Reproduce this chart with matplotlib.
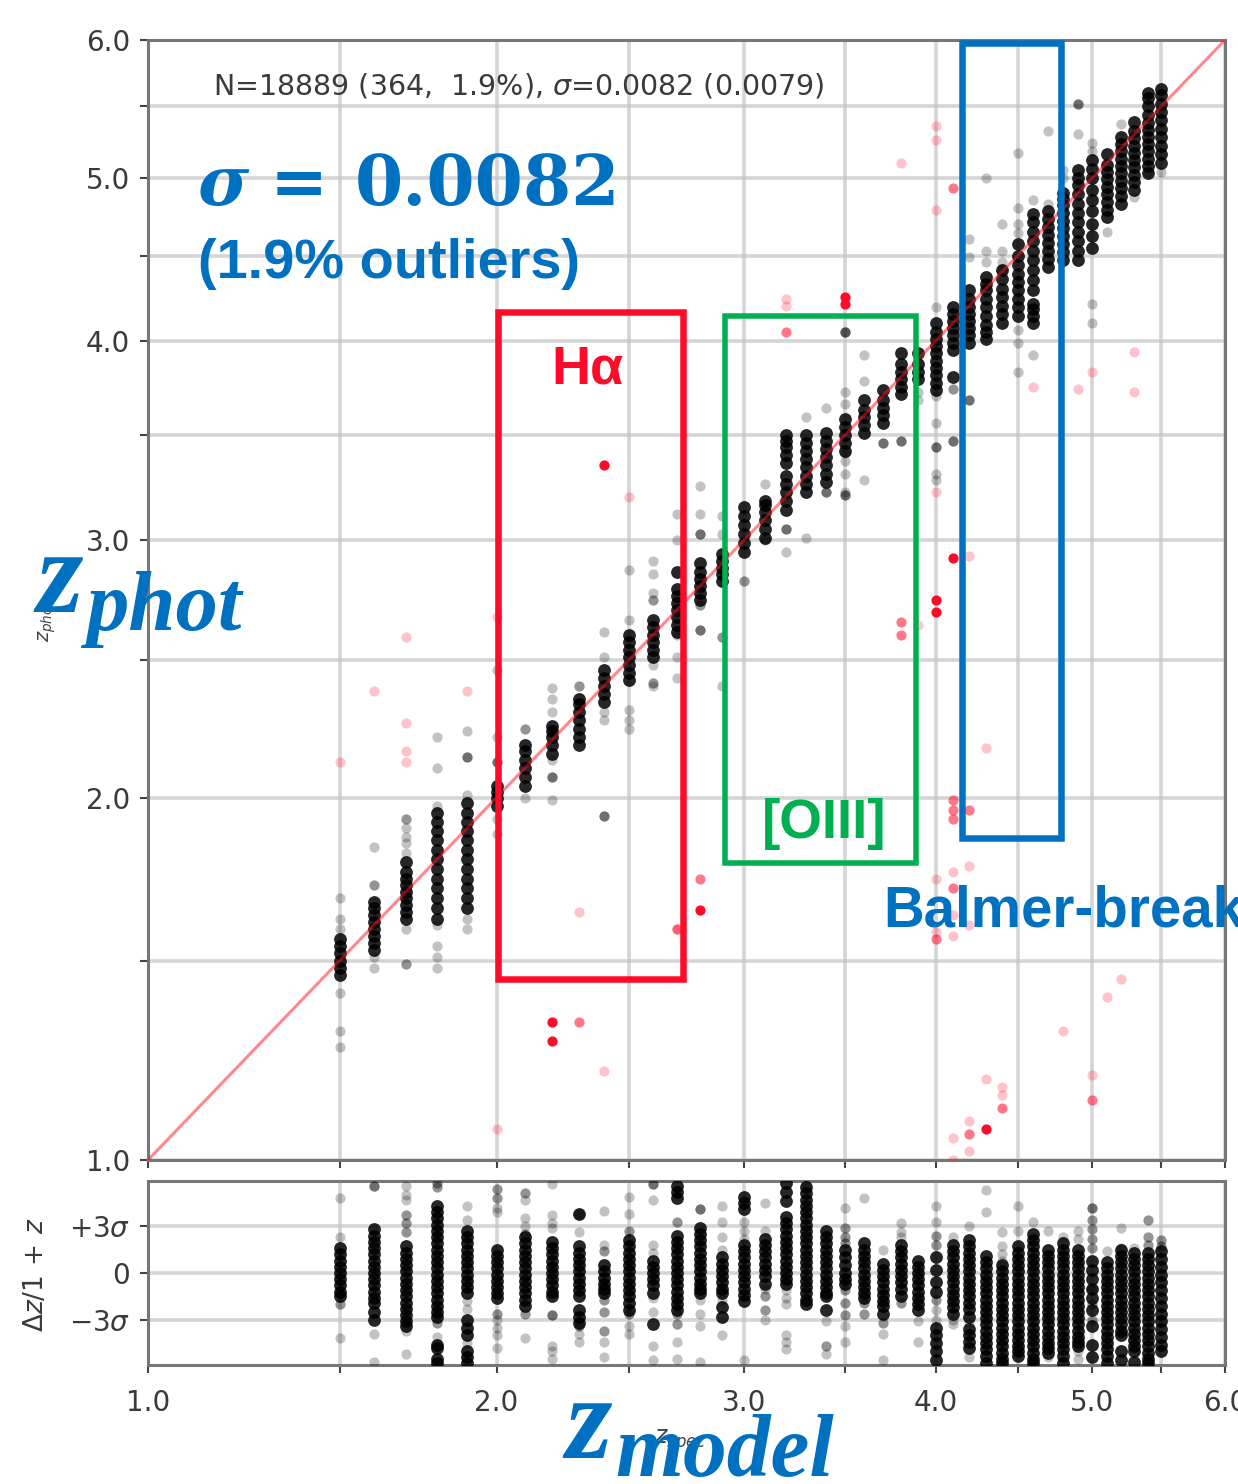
import numpy as np
import matplotlib
matplotlib.use("Agg")
import matplotlib.pyplot as plt
from matplotlib.patches import Rectangle
from matplotlib.ticker import FixedLocator, FixedFormatter, NullFormatter

z_spec_cols = [1.5,1.6,1.7,1.8,1.9,2.0,2.1,2.2,2.3,2.4,2.5,2.6,2.7,2.8,2.9,3.0,3.1,3.2,3.3,3.4,3.5,
               3.6,3.7,3.8,3.9,4.0,4.1,4.2,4.3,4.4,4.5,4.6,4.7,4.8,4.9,5.0,5.1,5.2,5.3,5.4,5.5]

# main panel: z_phot per z_spec column
main_dense = [
 [1.46,1.48,1.50,1.52,1.54,1.56],
 [1.53,1.55,1.57,1.59,1.61,1.63,1.65,1.67],
 [1.62,1.64,1.66,1.68,1.70,1.72,1.74,1.76,1.79],
 [1.62,1.65,1.68,1.71,1.74,1.77,1.80,1.83,1.86,1.89,1.92,1.95],
 [1.65,1.68,1.71,1.74,1.77,1.80,1.83,1.86,1.89,1.92,1.95,1.98],
 [1.97,2.00,2.02,2.04],
 [2.04,2.07,2.10,2.13,2.16,2.18],
 [2.15,2.18,2.21,2.23,2.25],
 [2.18,2.21,2.24,2.27,2.30,2.33,2.35],
 [2.34,2.37,2.40,2.43,2.46],
 [2.42,2.45,2.48,2.51,2.54,2.57,2.60],
 [2.51,2.54,2.57,2.60,2.63,2.66],
 [2.61,2.64,2.67,2.70,2.73,2.76,2.79,2.86],
 [2.74,2.77,2.80,2.83,2.86,2.90],
 [2.82,2.85,2.88,2.91,2.94],
 [2.95,2.99,3.03,3.07,3.11,3.15],
 [3.01,3.05,3.09,3.13,3.16,3.18],
 [3.14,3.18,3.22,3.26,3.30,3.36,3.40,3.44,3.47,3.50],
 [3.22,3.26,3.30,3.34,3.38,3.42,3.46,3.50],
 [3.27,3.31,3.35,3.39,3.43,3.47,3.51],
 [3.42,3.46,3.50,3.54,3.58],
 [3.51,3.55,3.59,3.63,3.68],
 [3.56,3.60,3.64,3.68,3.73],
 [3.71,3.75,3.79,3.83,3.87,3.93],
 [3.79,3.83,3.87,3.93],
 [3.73,3.77,3.81,3.85,3.89,3.93,3.97,4.01,4.05,4.10],
 [3.95,3.99,4.03,4.07,4.11,4.15,4.19,3.80],
 [3.99,4.03,4.07,4.11,4.15,4.19,4.24,4.29],
 [4.01,4.05,4.09,4.14,4.19,4.24,4.29,4.33,4.37],
 [4.10,4.15,4.20,4.25,4.30,4.36,4.41],
 [4.14,4.19,4.24,4.29,4.34,4.39,4.44,4.50,4.57],
 [4.10,4.14,4.18,4.21,4.29,4.35,4.41,4.47,4.53,4.59,4.65,4.71,4.76],
 [4.43,4.48,4.53,4.58,4.63,4.68,4.73,4.78],
 [4.47,4.52,4.57,4.62,4.67,4.72,4.77,4.82,4.86,4.90],
 [4.47,4.53,4.59,4.65,4.71,4.77,4.83,4.89,4.95,5.00,5.05],
 [4.55,4.62,4.70,4.78,4.85,4.92,5.00,5.06,5.12],
 [4.74,4.79,4.84,4.89,4.94,4.99,5.04,5.09,5.16],
 [4.83,4.88,4.93,4.98,5.03,5.08,5.13,5.18,5.23,5.28],
 [4.92,4.97,5.02,5.07,5.12,5.17,5.22,5.27,5.32,5.39],
 [5.03,5.08,5.13,5.18,5.23,5.28,5.33,5.38,5.44,5.50,5.56,5.60],
 [5.10,5.16,5.22,5.28,5.34,5.40,5.46,5.52,5.58,5.63],
]
main_sparse = [
 [1.68,1.62,1.59,1.41,1.31,1.27],
 [1.84,1.72,1.72,1.51,1.48],
 [1.93,1.93,1.90,1.87,1.85,1.82,1.59,1.49,1.49],
 [1.97,1.60,2.21,2.10,1.54,1.51,1.48],
 [2.01,2.23,2.14,2.14,2.14,1.62,1.59],
 [2.21,2.12,2.12,2.12,2.46,1.93,1.88],
 [2.24,2.24,2.00],
 [2.39,2.35,2.30,2.13,2.07,2.07,2.07,1.99],
 [2.40,2.40],
 [2.61,2.51,2.30,2.27,1.94,1.94,1.94],
 [2.66,2.87,2.31,2.27,2.24],
 [2.48,2.41,2.41,2.40,2.91,2.85,2.77,2.74,2.74],
 [2.60,2.51,2.43,3.00,3.12],
 [3.03,3.03,3.03,2.72,2.72,2.62,2.62,2.62,3.25,3.12],
 [2.59,2.59,2.40,3.11,3.03],
 [2.82,2.82],
 [3.26,3.00],
 [3.05,3.05,3.05,2.95],
 [3.59,3.01],
 [3.64,3.22,3.22,3.22],
 [3.41,3.37,3.31,3.22,3.21,3.21,3.21,3.72,3.66,4.05,4.05,4.05,4.05],
 [3.92,3.78,3.28],
 [3.46,3.46,3.46],
 [3.47,3.47,3.47],
 [3.72,3.68],
 [3.70,3.56,3.44,3.44,3.44,3.31,3.28,4.19],
 [3.74,3.74,3.47,3.47,3.47],
 [4.60,4.49,3.68,3.68,3.68],
 [5.00,4.53,4.46],
 [4.53,4.46,4.41,4.70],
 [5.17,4.80,4.70,4.64,4.06,3.99,3.83],
 [3.92,4.85],
 [5.32,4.83],
 [5.00,5.05],
 [5.52,5.52,5.52,5.30],
 [4.21,4.10,5.24,5.18],
 [4.65],
 [5.37],
 [4.87],
 [5.04],
 [5.04],
]

# residual panel: Delta z/(1+z) in units of sigma, per z_spec column
res_dense = [
 [1.6,1.2,0.8,0.4,0,-0.4,-0.8,-1.2,-1.5],
 [2.85,2.4,2,1.6,1.2,0.8,0.4,0,-0.4,-0.8,-1.2,-1.6,-1.9,-2.5,-3.0],
 [1.7,1.3,0.9,0.5,0.1,-0.3,-0.7,-1.1,-1.5,-1.9,-2.3,-2.7,-3.1,-3.4],
 [4.3,3.9,3.5,3.1,2.7,2.3,1.9,1.5,1.1,0.7,0.3,-0.1,-0.5,-0.9,-1.3,-1.7,-2.1,-2.5,-2.8,-4.6,-4.8,-5.5,-5.8],
 [2.7,2.3,1.9,1.5,1.1,0.7,0.3,-0.1,-0.5,-0.9,-1.3,-3,-3.5,-4,-5,-5.4,-5.8],
 [1.5,1.1,0.7,0.3,-0.1,-0.5,-0.9,-1.3,-1.6],
 [2.3,1.9,1.5,1.1,0.7,0.3,-0.1,-0.5,-0.9,-1.3,-1.7,-2.1],
 [2,1.6,1.2,0.8,0.4,0,-0.4,-0.8,-1.2,-1.5],
 [1.7,1.3,0.9,0.5,0.1,-0.3,-0.7,-1.1,-1.5,-2.4,-2.8,-3.2,3.8],
 [0.5,0.1,-0.3,-0.7,-1.0,-1.3],
 [2.1,1.7,1.3,0.9,0.5,0.1,-0.3,-0.7,-1.1,-1.5,-1.9,-2.4],
 [0.8,0.4,0,-0.4,-0.8,-1.3,-3.3],
 [2.4,2,1.6,1.2,0.8,0.4,0,-0.4,-0.8,-1.2,-1.6,-2,-2.4,5.6,5.2,4.8],
 [2.9,2.5,2.1,1.7,1.3,0.9,0.5,0.1,-0.3,-0.7,-1.0,-1.3],
 [1,0.6,0.2,-0.2,-0.6,-1.0,-1.3,-2.2,-2.8],
 [1.8,1.4,1,0.6,0.2,-0.2,-0.6,-1.0,-1.4,-1.8,4.9,4.5,4.1],
 [2.2,1.8,1.4,1,0.6,0.2,-0.2,-0.7],
 [5.8,5.2,4.6,3.6,3.2,2.8,2.4,2,1.6,1.2,0.8,0.4,0,-0.4,-0.7],
 [5.5,5.1,4.7,4.3,3.9,3.5,3.1,2.7,2.3,1.9,1.5,1.1,0.7,0.3,-0.1,-0.5,-0.9,-1.3,-1.7,-2.0],
 [2.7,2.3,1.9,1.5,1.1,0.7,0.3,-0.1,-0.5,-0.9,-1.3,-1.5,-2.4],
 [1.5,1.0,0.5,0,-0.4,-0.7],
 [1.9,1.5,1.1,0.7,0.3,-0.1,-0.5,-0.9,-1.3,-1.6],
 [0.6,0.2,-0.2,-0.6,-1.0,-1.4,-1.8,-2.1,-2.6],
 [1.8,1.4,1,0.6,0.2,-0.2,-0.6,-1.0,-1.5],
 [0.8,0.4,0,-0.4,-0.8,-1.2,-1.6,-2.0,-2.4],
 [1.0,0.2,-0.6,-1.2,-3.5,-4,-4.5,-5,-5.6],
 [1.8,1.4,1,0.6,0.2,-0.2,-0.6,-1.0,-1.4,-1.8,-2.2,-2.6],
 [2.1,1.7,1.3,0.9,0.5,0.1,-0.3,-0.7,-1.1,-1.5,-1.9,-2.3,-2.8,-3.6,-4.0,-4.4,-4.8],
 [1.1,0.7,0.3,-0.1,-0.5,-0.9,-1.3,-1.7,-2.1,-2.5,-2.9,-3.3,-3.7,-4.1,-4.5,-4.9,-5.3,-5.8],
 [0.5,0.1,-0.3,-0.7,-1.1,-1.5,-1.9,-2.3,-2.7,-3.1,-3.5,-3.9,-4.3,-4.7,-5.1,-5.5,-5.8],
 [1.7,1.3,0.9,0.5,0.1,-0.3,-0.7,-1.1,-1.5,-1.9,-2.3,-2.7,-3.1,-3.5,-3.9,-4.3,-4.7,-5.0,-5.3],
 [2.5,2.1,1.7,1.3,0.9,0.5,0.1,-0.3,-0.7,-1.1,-1.5,-1.9,-2.3,-2.7,-3.1,-3.5,-3.9,-4.3,-4.7,-5.1,-5.5,-5.8],
 [1.5,1.1,0.7,0.3,-0.1,-0.5,-0.9,-1.3,-1.7,-2.1,-2.5,-2.9,-3.3,-3.7,-4.1,-4.5,-4.8,-5.1],
 [1.9,1.5,1.1,0.7,0.3,-0.1,-0.5,-0.9,-1.3,-1.7,-2.1,-2.5,-2.9,-3.3,-3.7,-4.1,-4.5,-4.9,-5.3,-5.8],
 [1.5,1.1,0.7,0.3,-0.1,-0.5,-0.9,-1.3,-1.7,-2.1,-2.5,-2.9,-3.3,-3.7,-4.1,-4.4,-4.7],
 [0.8,0.2,-0.4,-1.0,-1.6,-2.4,-3.4,-4.6,-5.4],
 [0.7,0.3,-0.1,-0.5,-0.9,-1.3,-1.7,-2.1,-2.5,-2.9,-3.3,-3.7,-4.1,-4.5,-4.9,-5.3,-5.8],
 [1.5,1.1,0.7,0.3,-0.1,-0.5,-0.9,-1.3,-1.7,-2.1,-2.5,-2.9,-3.3,-3.7,-4.0,-5.0,-5.6],
 [1.3,0.9,0.5,0.1,-0.3,-0.7,-1.1,-1.5,-1.9,-2.3,-2.7,-3.1,-3.5,-3.9,-4.3,-4.7,-5.0,-5.7],
 [1.3,0.9,0.5,0.1,-0.3,-0.7,-1.1,-1.5,-1.9,-2.3,-2.7,-3.1,-3.5,-3.9,-4.3,-4.7,-5.1,-5.5,-5.8],
 [1.4,0.9,0.4,-0.1,-0.6,-1.1,-1.6,-2.1,-2.6,-3.1,-3.6,-4.1,-4.6,-5.0],
]
res_sparse = [
 [4.8,2.3,-2.0,-2.0,-4.2],
 [5.6,5.6,5.6,-3.9,-5.7],
 [3.7,3.7,3.2,3.2,2.6,2.6,5.6,5.0,4.7,-3.7,-5.2],
 [5.8,5.8,5.5,5.5,-3.2,-3.2,-4.1],
 [4.3,3.4,-1.8,-2.3,-4.5],
 [5.4,5.4,4.8,4.8,4.2,3.9,-2.6,-2.6,-3,-3.5,-4,-4.8],
 [5.1,5.1,4.7,3.5,3,2.5,2.5,-2.6,-2.6,-4.2],
 [5.7,3.7,3.2,2.9,-2.7,-2.7,-2.7,-4.7,-5,-5.5],
 [3.8,3.8,2.6,-3.4,-3.9,-4.4,-3.4],
 [1.8,1.4,1.4,4,-1.7,-1.7,-2.5,-2.5,-3.7,-3.7,-4.4,-5.4],
 [2.7,2.7,3.8,4.9,-2.6,-2.6,-3.4,-3.9],
 [1.8,1.3,4.7,5.7,5.7,5.7,-1.6,-2.5,-4.7,-5.6],
 [3.3,3.3,-2.6,-2.6,-3.3,-3.3,-4.4,-5.5],
 [4.1,4.1,4.1,-1.7,-2.6,-3.4,-5.7],
 [4.3,3.3,2.3,1.5,-1.7,-4],
 [3.3,2.7,2.2,-5.6],
 [4.5,2.7,-1,-1.5,-1.5,-2.4,-2.4,-3],
 [-1.1,-1.6,-2,-4,-4.4,-4.9],
 [5.7],
 [-3.1,-4.7,-4.7,-5.2],
 [4.2,2.9,2.9,2.3,2.3,1.9,1.9,-1.1,-1.1,-1.9,-1.9,-2.7,-2.7,-3.4,-4.4],
 [4.8,-1.9,-1.9,-2.6,-2.6],
 [1.5,-3.2,-3.2,-3.9,-5.6],
 [3.2,2.6,2.3,-1.9,-1.9],
 [-3.1,-4.4],
 [4.3,3.3,2.4,2.4,1.8,1.8,-1.7,-1.7,-2.4,-3],
 [2.3,-3,-3.3],
 [3.0,-5.4,-3.2],
 [5.3,3.9],
 [2.6,1.7,1.2,0.8],
 [4.3,2.7],
 [3.3],
 [2.7,-5.4],
 [2.3],
 [2.7,2.2,-5,-5.5],
 [4.2,4.2,4.2,3.4,3.4,2.8,2.8,2.2,2.2,1.6,1.6,-1,-1,-2,-2,-3,-3],
 [1.4],
 [2.9,1.6],
 [1.6],
 [3.4,3.4,2.3,2.3,1.8,1.8,-5.8],
 [2.1,2.1,1.7,1.7],
]

# outliers (z_spec, z_phot) by shade
out_light_spec = [1.5,1.6,1.7,1.7,1.7,1.7,1.9,2.0,2.0,2.3,2.4,2.5,2.7,3.2,3.8,4.0,4.0,4.0,4.6,4.9,5.0,5.3,5.3,4.0,
                  3.9,4.2,4.3,4.2,4.1,4.0,4.1,4.2,4.1,4.0,5.2,5.1,4.8,5.0,4.4,4.4,4.3,4.2,4.1,4.2,4.1,3.2]
out_light_phot = [2.12,2.38,2.59,2.26,2.16,2.12,2.38,2.67,1.07,1.64,1.21,3.20,1.59,4.20,5.10,5.36,5.26,4.79,3.75,3.74,3.83,3.94,3.72,3.22,
                  2.64,2.93,2.17,1.78,1.76,1.74,1.63,1.60,1.57,1.58,1.45,1.40,1.31,1.20,1.17,1.15,1.19,1.09,1.05,1.02,1.00,4.24]
out_mid_spec = [2.3,2.8,3.2,4.1,3.8,3.8,4.1,4.1,4.1,4.2,4.1,4.0,5.0,4.4,4.2,2.7]
out_mid_phot = [1.335,1.74,4.05,4.93,2.65,2.60,1.99,1.96,1.93,1.96,1.71,1.56,1.14,1.12,1.06,1.59]
out_strong_spec = [2.2,2.2,2.4,2.8,3.5,3.5,4.0,4.0,4.1,4.3]
out_strong_phot = [1.335,1.285,3.35,1.645,4.25,4.21,2.74,2.69,2.92,1.07]

major_ticks = [1,2,3,4,5,6]
minor_ticks = [1.5,2.5,3.5,4.5,5.5]
major_labels = ["1.0","2.0","3.0","4.0","5.0","6.0"]
res_ticks = [-3,0,3]
res_labels = [r"$-3\sigma$", "0", r"$+3\sigma$"]
stats_text = r"N=18889 (364,  1.9%), $\sigma$=0.0082 (0.0079)"

W, H = 1238, 1484
BLUE, RED, GREEN = "#0070C0", "#FF0A28", "#00B050"
plt.rcParams["mathtext.fontset"] = "dejavusans"
fig = plt.figure(figsize=(W/100, H/100), dpi=100, facecolor="white")

def fx(p): return p / W
def fy(p): return 1 - p / H

ax = fig.add_axes([fx(148), fy(1160), 1077/W, 1120/H])
axr = fig.add_axes([fx(148), fy(1365), 1077/W, 184/H])
fwd = lambda z: np.log(1 + np.asarray(z, dtype=float))
inv = lambda v: np.exp(np.asarray(v, dtype=float)) - 1

def col_points(cols):
    xs = [z for z, vals in zip(z_spec_cols, cols) for _ in vals]
    ys = [v for vals in cols for v in vals]
    return xs, ys

for a in (ax, axr):
    a.set_xscale("function", functions=(fwd, inv))
    a.set_xlim(1, 6)
    a.xaxis.set_major_locator(FixedLocator(major_ticks))
    a.xaxis.set_minor_locator(FixedLocator(minor_ticks))
    a.xaxis.set_minor_formatter(NullFormatter())
    a.grid(True, which="both", color="#c4c4c4", lw=2.6, alpha=0.7)
    a.set_axisbelow(True)
    a.tick_params(which="both", length=6, width=1.5, color="#444444", labelcolor="#3a3a3a", labelsize=20)
    a.tick_params(axis="y", which="major", pad=7)
    a.tick_params(axis="x", which="major", pad=11)
    for s in a.spines.values():
        s.set_color("#777777")
        s.set_linewidth(2.2)

ax.set_yscale("function", functions=(fwd, inv))
ax.set_ylim(1, 6)
ax.yaxis.set_major_locator(FixedLocator(major_ticks))
ax.yaxis.set_major_formatter(FixedFormatter(major_labels))
ax.yaxis.set_minor_locator(FixedLocator(minor_ticks))
ax.yaxis.set_minor_formatter(NullFormatter())
ax.xaxis.set_major_formatter(NullFormatter())
axr.xaxis.set_major_formatter(FixedFormatter(major_labels))

ms_dense, ms_sparse = 85, 54
x, y = col_points(main_sparse)
ax.scatter(x, y, s=ms_sparse, c="k", alpha=0.24, lw=0, zorder=3)
x, y = col_points(main_dense)
ax.scatter(x, y, s=ms_dense, c="k", alpha=0.85, lw=0, zorder=3)
ax.scatter(out_light_spec, out_light_phot, s=ms_sparse, c=RED, alpha=0.24, lw=0, zorder=3)
ax.scatter(out_mid_spec, out_mid_phot, s=ms_sparse, c=RED, alpha=0.55, lw=0, zorder=3)
ax.scatter(out_strong_spec, out_strong_phot, s=ms_sparse, c=RED, alpha=1.0, lw=0, zorder=3)
ax.plot([1, 6], [1, 6], color="#FF1020", alpha=0.5, lw=2.2, zorder=4)
fig.text(fx(213), fy(86), stats_text, fontsize=20.5, color="#3a3a3a", va="center", ha="left")

axr.set_ylim(-5.9, 5.9)
axr.yaxis.set_major_locator(FixedLocator(res_ticks))
axr.yaxis.set_major_formatter(FixedFormatter(res_labels))
x, y = col_points(res_sparse)
axr.scatter(x, y, s=ms_sparse, c="k", alpha=0.24, lw=0, zorder=3)
x, y = col_points(res_dense)
axr.scatter(x, y, s=ms_dense, c="k", alpha=0.85, lw=0, zorder=3)

fig.text(fx(36), fy(1275), r"$\Delta z/1\,+\,z$", rotation=90, fontsize=19, color="#3a3a3a", ha="center", va="center")
fig.text(fx(47), fy(620), r"$z_{phot}$", rotation=90, fontsize=14, color="#444444", ha="center", va="center")
fig.text(fx(680), fy(1441), r"$z_{spec}$", fontsize=17, color="#444444", ha="center", va="center")

# annotation boxes
for (x0, y0, x1, y1, c, lw) in [(498,312,683,979,RED,6.5), (725,316,916,863,GREEN,5.5), (962,43,1061,838,BLUE,6.5)]:
    fig.add_artist(Rectangle((fx(x0), fy(y1)), (x1-x0)/W, (y1-y0)/H, transform=fig.transFigure,
                             fill=False, edgecolor=c, linewidth=lw*0.72, joinstyle="miter", zorder=6))

big = dict(color=BLUE, ha="left", va="baseline", zorder=7, fontweight="bold")
fig.text(fx(198), fy(205), "σ", fontsize=50, family="DejaVu Serif", style="italic", **big)
fig.text(fx(270), fy(205), "=", fontsize=50, family="DejaVu Serif", **big)
fig.text(fx(355), fy(205), "0.0082", fontsize=50, family="DejaVu Serif", **big)
fig.text(fx(198), fy(278), "(1.9% outliers)", fontsize=40.3, family="Liberation Sans", **big)
fig.text(fx(551), fy(383), "Hα", fontsize=39, family="Liberation Sans", **{**big, "color": RED})
fig.text(fx(762), fy(838), "[OIII]", fontsize=39.5, family="Liberation Sans", **{**big, "color": GREEN})
fig.text(fx(883), fy(926), "Balmer-break", fontsize=40.7, family="Liberation Sans", **big)
fig.text(fx(36), fy(612), "z", fontsize=86, family="Liberation Serif", style="italic", **big)
fig.text(fx(86), fy(630), "phot", fontsize=61, family="Liberation Serif", style="italic", **big)
fig.text(fx(565), fy(1458), "z", fontsize=86, family="Liberation Serif", style="italic", **big)
fig.text(fx(615), fy(1476), "model", fontsize=63, family="Liberation Serif", style="italic", **big)

fig.savefig("out.png", dpi=100, facecolor="white")
